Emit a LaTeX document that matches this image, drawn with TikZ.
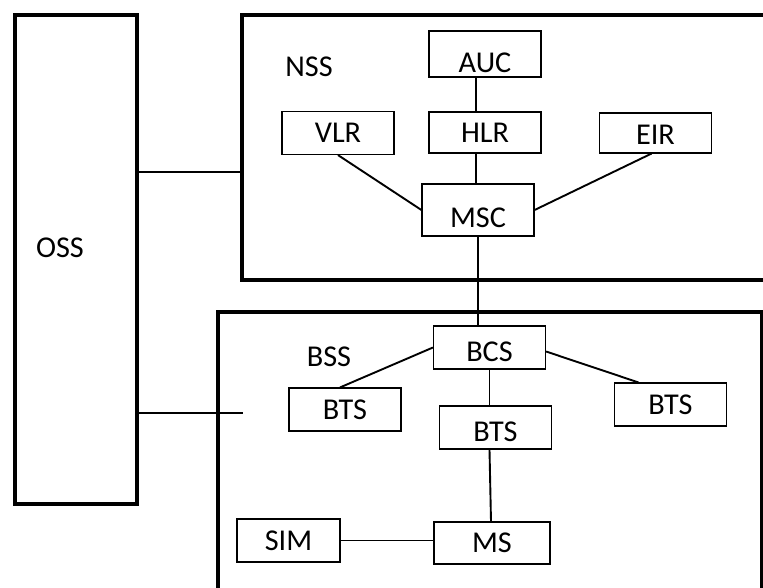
\documentclass[tikz,border=0pt]{standalone}
\usepackage{fontspec}
\setmainfont{Carlito}
\usetikzlibrary{calc,positioning}
\tikzset{
  font=\fontsize{21.5}{25}\selectfont,
  panel/.style={rectangle, draw=black, line width=3pt, fill=none, inner sep=0pt},
  unit/.style={rectangle, draw=black, line width=0.8pt, fill=white, minimum width=2.8cm, minimum height=1.075cm, inner sep=0pt, align=center},
  lowText/.style={text height=#1},
  panelLabel/.style={inner sep=0pt},
  link/.style={draw=black, line width=1.35pt},
  bus/.style={draw=black, line width=0.9pt}
}

\begin{document}
\begin{tikzpicture}[x=0.025cm,y=-0.025cm]
\clip (0,0) rectangle (763,587);
\fill[white] (0,0) rectangle (763,587);

% --------------------------------------------------------------------------
% Subsystem frames
% --------------------------------------------------------------------------
\node[panel, minimum width=3.05cm, minimum height=12.225cm, anchor=north west] (oss) at (13,13) {};
\node[panelLabel] at (60,248) {OSS};

\node[panel, minimum width=14cm, minimum height=6.625cm, anchor=north west] (nss) at (240,13) {};
\node[panelLabel] at (309,67) {NSS};

\node[panel, minimum width=13.6cm, minimum height=8cm, anchor=north west] (bss) at (216,310) {};
\node[panelLabel] at (329,357) {BSS};

\coordinate (nssIn) at (240,172);
\coordinate (bssIn) at (243,413);
\draw[bus] (nssIn -| oss.east) -- (nssIn);
\draw[bus] (bssIn -| oss.east) -- (bssIn);

% --------------------------------------------------------------------------
% NSS
% --------------------------------------------------------------------------
\node[unit, minimum height=1.15cm, lowText=0.91cm] (auc) at (485,54) {AUC};
\node[unit, minimum height=1.025cm] (hlr) at (485,132.5) {HLR};
\node[unit] (vlr) at (338,133) {VLR};
\node[unit, minimum height=1cm, lowText=0.57cm] (eir) at (655.5,133) {EIR};
\node[unit, minimum height=1.3cm, lowText=0.87cm] (msc) at (478,210) {MSC};

\draw[link] ([xshift=-0.225cm]auc.south) -- ([xshift=-0.225cm]hlr.north);
\draw[link] ([xshift=-0.225cm]hlr.south) -- ([xshift=-0.225cm]hlr.south |- msc.north);
\draw[link] (vlr.south) -- (msc.west);
\draw[link] ([xshift=-0.1cm]eir.south) -- (msc.east);

% --------------------------------------------------------------------------
% BSS
% --------------------------------------------------------------------------
\node[unit, lowText=0.71cm] (bcs) at (489.5,347.5) {BCS};
\node[unit] (btsLeft) at (345,409.5) {BTS};
\node[unit, lowText=0.71cm] (btsMid) at (495.5,427.5) {BTS};
\node[unit] (btsRight) at (670.5,404.5) {BTS};
\node[unit, minimum width=2.9cm, minimum height=1.05cm] (ms) at (492,543) {MS};
\node[unit, minimum width=2.575cm] (sim) at (288.5,540.5) {SIM};

\draw[link] (msc.south) -- (msc.south |- bcs.north);
\draw[link] (bcs.west) -- ([xshift=-0.125cm]btsLeft.north);
\draw[link] ([yshift=-0.1cm]bcs.east) -- ([xshift=-0.8cm]btsRight.north);
\draw[link] (bcs.south) -- (bcs.south |- btsMid.north);
\draw[link] ([xshift=-0.15cm]btsMid.south) -- ([xshift=-0.025cm]ms.north);
\draw[link] (sim.east) -- (sim.east -| ms.west);

\end{tikzpicture}
\end{document}
